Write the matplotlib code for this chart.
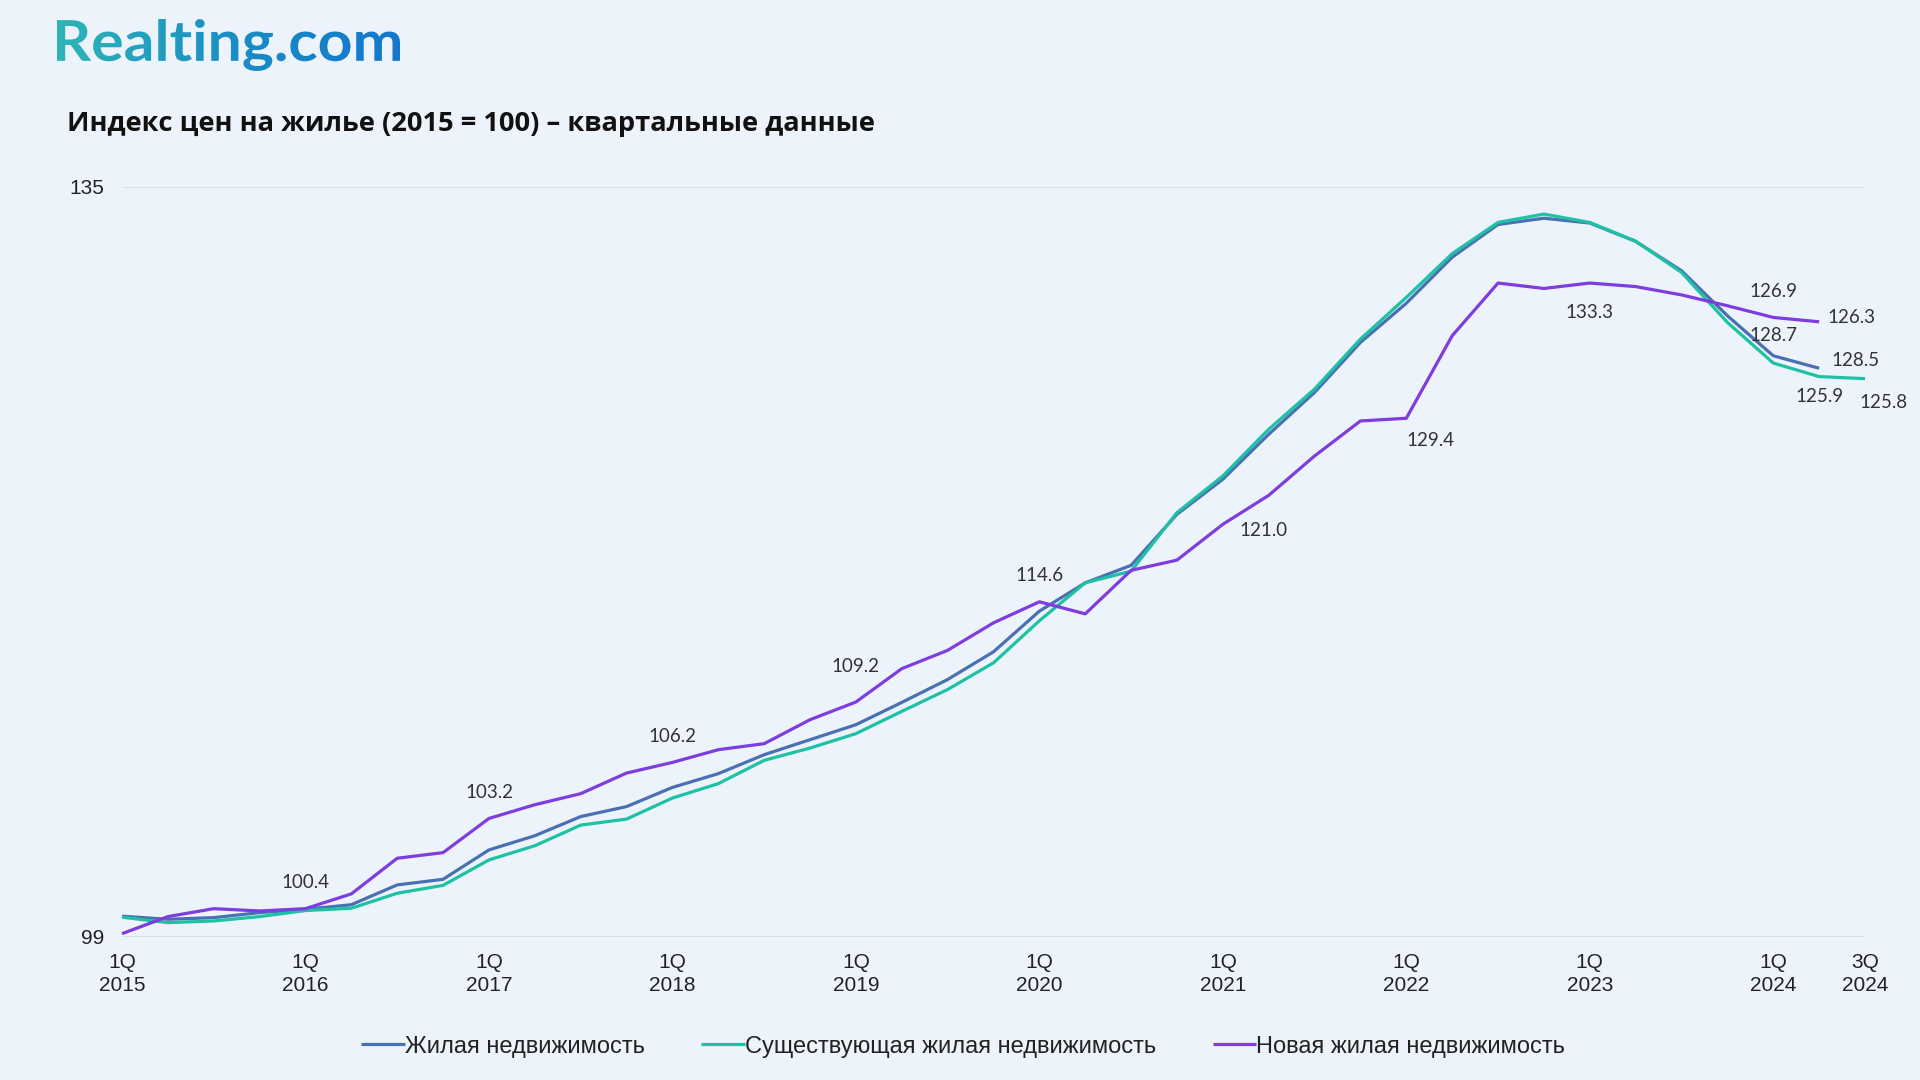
import numpy as np
import matplotlib
matplotlib.use("Agg")
import matplotlib.pyplot as plt
from matplotlib.textpath import TextPath
from matplotlib.patches import PathPatch
from matplotlib.font_manager import FontProperties
from matplotlib.colors import LinearSegmentedColormap
from matplotlib.transforms import Affine2D

# quarters 1Q 2015 .. 3Q 2024
years = [2015, 2016, 2017, 2018, 2019, 2020, 2021, 2022, 2023, 2024]
quarters = [f"{q}Q {y}" for y in years for q in (1, 2, 3, 4)][:39]

tick_labels = ["1Q\n2015", "1Q\n2016", "1Q\n2017", "1Q\n2018", "1Q\n2019",
               "1Q\n2020", "1Q\n2021", "1Q\n2022", "1Q\n2023", "1Q\n2024", "3Q\n2024"]
tick_quarters = ["1Q 2015", "1Q 2016", "1Q 2017", "1Q 2018", "1Q 2019",
                 "1Q 2020", "1Q 2021", "1Q 2022", "1Q 2023", "1Q 2024", "3Q 2024"]

residential = [100.0, 99.85, 99.93, 100.17, 100.33, 100.55, 101.5, 101.77, 103.18, 103.86,
               104.78, 105.26, 106.18, 106.84, 107.75, 108.47, 109.19, 110.26, 111.36, 112.69,
               114.64, 116.0, 116.84, 119.29, 120.97, 123.13, 125.14, 127.54, 129.42, 131.63,
               133.2, 133.5, 133.27, 132.39, 130.98, 128.82, 126.9, 126.3]
existing = [99.95, 99.69, 99.77, 99.98, 100.27, 100.38, 101.1, 101.48, 102.7, 103.38,
            104.37, 104.66, 105.67, 106.36, 107.48, 108.07, 108.76, 109.83, 110.88, 112.16,
            114.18, 116.0, 116.56, 119.37, 121.13, 123.37, 125.3, 127.7, 129.7, 131.8,
            133.3, 133.7, 133.3, 132.4, 130.9, 128.5, 126.55, 125.9, 125.8]
new_build = [99.16, 99.98, 100.36, 100.25, 100.36, 101.07, 102.78, 103.05, 104.69, 105.35,
             105.88, 106.87, 107.38, 107.99, 108.28, 109.43, 110.28, 111.88, 112.76, 114.08,
             115.09, 114.51, 116.6, 117.09, 118.81, 120.2, 122.09, 123.77, 123.9, 127.86,
             130.39, 130.13, 130.39, 130.22, 129.82, 129.3, 128.74, 128.53]

series_names = ["Жилая недвижимость", "Существующая жилая недвижимость", "Новая жилая недвижимость"]
series_colors = ["#4a70b4", "#1dc1a4", "#7d3ddf"]

# data labels as they appear on the chart: (series, quarter, text)
label_series = [2, 2, 2, 2, 2, 2, 2, 2, 2, 2, 0, 0, 1, 1]
label_quarters = ["1Q 2016", "1Q 2017", "1Q 2018", "1Q 2019", "1Q 2020", "2Q 2021",
                  "1Q 2022", "1Q 2023", "1Q 2024", "2Q 2024", "1Q 2024", "2Q 2024",
                  "2Q 2024", "3Q 2024"]
label_texts = ["100.4", "103.2", "106.2", "109.2", "114.6", "121.0", "129.4", "133.3",
               "126.9", "126.3", "128.7", "128.5", "125.9", "125.8"]

BG = "#edf3fb"

fig = plt.figure(figsize=(19.2, 10.8), dpi=100, facecolor=BG)

# logo with gradient fill (pixel coords overlay)
over = fig.add_axes([0, 0, 1, 1], zorder=0)
over.set_xlim(0, 1920)
over.set_ylim(0, 1080)
over.axis("off")
tp = TextPath((0, 0), "Realting.com", size=100, prop=FontProperties(family="Lato", weight="bold"))
bb = tp.get_extents()
x0, x1, y_top, y_bot = 57, 400, 1080 - 19, 1080 - 71
tr = Affine2D().translate(-bb.x0, -bb.y0).scale((x1 - x0) / bb.width, (y_top - y_bot) / bb.height).translate(x0, y_bot)
logo_path = tr.transform_path(tp)
patch = PathPatch(logo_path, facecolor="none", edgecolor="none")
over.add_patch(patch)
cmap = LinearSegmentedColormap.from_list("logo", ["#2db5b6", "#1a8ec6", "#1477cc"])
grad = np.linspace(0, 1, 256).reshape(1, -1)
im = over.imshow(grad, cmap=cmap, extent=(x0, x1, y_bot, y_top), aspect="auto", interpolation="bicubic")
im.set_clip_path(patch)

fig.text(67 / 1920, 1 - 124 / 1080, "Индекс цен на жилье (2015 = 100) – квартальные данные",
         fontsize=19.6, fontweight="bold", family="Open Sans", color="#111111", va="center", ha="left")

ax = fig.add_axes([122 / 1920, 143 / 1080, (1865 - 122) / 1920, (937 - 187) / 1080], zorder=1)
ax.set_facecolor(BG)
ax.patch.set_alpha(0)

for vals, name, col in zip([residential, existing, new_build], series_names, series_colors):
    ax.plot(np.arange(len(vals)), vals, color=col, lw=2.3, label=name, clip_on=False,
            solid_joinstyle="round", solid_capstyle="butt")

all_series = [residential, existing, new_build]
for s, q, t in zip(label_series, label_quarters, label_texts):
    i = quarters.index(q)
    y = all_series[s][i]
    ha = "center"
    dx, dy = 0, 26
    if t == "109.2":
        dy = 36
    elif t == "121.0":
        dx, dy = -5, -35
    elif t == "129.4":
        ha, dy = "left", -22
    elif t == "133.3":
        dy = -29
    elif t == "126.3":
        ha, dx, dy = "left", 8, 4
    elif t == "128.7":
        dy = 20
    elif t == "128.5":
        ha, dx, dy = "left", 12, 8
    elif t == "125.9":
        dy = -20
    elif t == "125.8":
        dx, dy = 18, -24
    ax.annotate(t, (i, y), xytext=(dx * 0.72, dy * 0.72), textcoords="offset points",
                ha=ha, va="center", fontsize=13.5, family="Lato", color="#333333")

ax.set_xlim(0, 38)
ax.set_ylim(99, 135)
ax.set_yticks([99, 135])
ax.set_yticklabels(["99", "135"])
ax.set_xticks([quarters.index(q) for q in tick_quarters])
ax.set_xticklabels(tick_labels)
ax.tick_params(axis="both", length=0, labelsize=15, labelcolor="#222222")
ax.tick_params(axis="x", pad=11.5)
ax.tick_params(axis="y", pad=13)
for lab in ax.get_xticklabels() + ax.get_yticklabels():
    lab.set_family("Liberation Sans")
    lab.set_linespacing(1.25)
ax.grid(axis="y", color="#d9d9d9", lw=1.2)
ax.set_axisbelow(True)
for sp in ax.spines.values():
    sp.set_visible(False)

leg = ax.legend(loc="center", bbox_to_anchor=(0.4825, -0.146), ncol=3, frameon=False,
                handlelength=1.85, handletextpad=0.0, columnspacing=2.4,
                prop=FontProperties(family="Liberation Sans", size=17))
for t in leg.get_texts():
    t.set_color("#222222")

fig.savefig("out.png", dpi=100, facecolor=BG)
